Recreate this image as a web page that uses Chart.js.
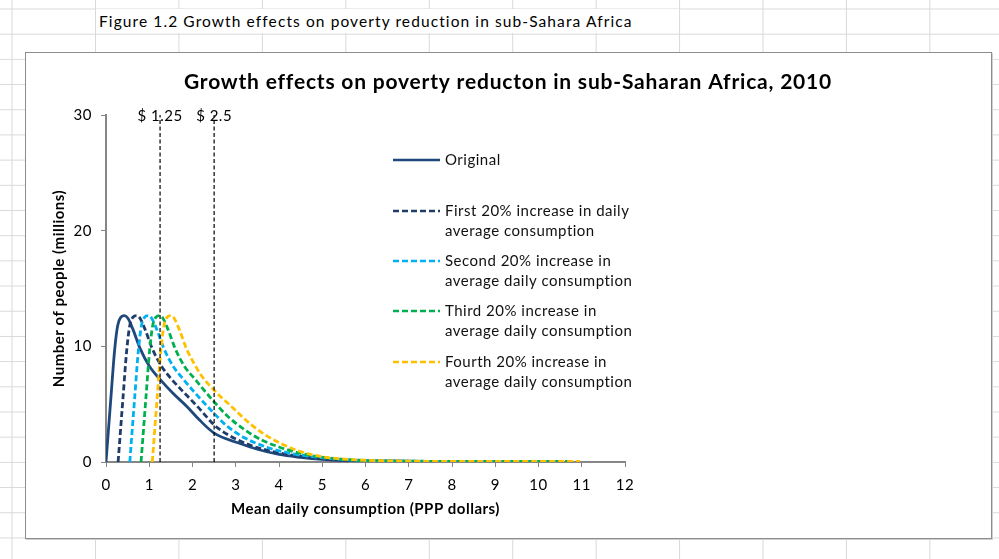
<!DOCTYPE html>
<html>
<head>
<meta charset="utf-8">
<script src="https://cdn.jsdelivr.net/npm/chart.js@4.4.1/dist/chart.umd.min.js"></script>
<style>
  body{
    margin:0; width:999px; height:559px; overflow:hidden; position:relative;
    background-color:#fff;
    background-image:linear-gradient(to right,#d9d9d9 1px,transparent 1px),linear-gradient(to bottom,#d9d9d9 1px,transparent 1px);
    background-size:83.45px 100%,100% 25.2px;
    background-position:95px 0,0 8.5px;
    font-family:Lato,"Open Sans",sans-serif;
  }
  #caption{position:absolute;left:96px;top:9px;width:583px;height:24px;background:#fff;
    font-size:15.5px;letter-spacing:1.1px;line-height:24px;padding-left:3px;box-sizing:border-box;color:#000;white-space:nowrap}
  #box{position:absolute;left:25px;top:52px;width:967px;height:487px;box-sizing:border-box;
    border:1px solid #8c8c8c;background:#fff;box-shadow:1px 1px 0 #cfcfcf}
  #chart{position:absolute;left:0;top:0}
</style>
</head>
<body>
<div id="caption">Figure 1.2 Growth effects on poverty reduction in sub-Sahara Africa</div>
<div id="box"></div>
<canvas id="chart" width="999" height="559"></canvas>
<script>
// Growth effects on poverty - distribution curves

const chartTitle = 'Growth effects on poverty reducton in sub-Saharan Africa, 2010';
const xTitle = 'Mean daily consumption (PPP dollars)';
const yTitle = 'Number of people (millions)';

const seriesNames = [
  ['Original'],
  ['First 20% increase in daily', 'average consumption'],
  ['Second 20% increase in', 'average daily consumption'],
  ['Third 20% increase in', 'average daily consumption'],
  ['Fourth 20% increase in', 'average daily consumption']
];
const seriesColors = ['#1f497d', '#1f3c6b', '#00b0f0', '#00b050', '#ffc000'];

const origX = [0, 0.11, 0.2, 0.27, 0.34, 0.43, 0.51, 0.63, 0.79, 1.0, 1.26, 1.56, 1.87, 2.17, 2.5, 3.1, 3.5, 4.0, 4.5, 5.0, 5.5, 6.0, 7.0, 8.0, 9.0, 9.9];
const origY = [0, 5.4, 9.7, 11.8, 12.5, 12.65, 12.4, 11.4, 9.8, 8.3, 7.1, 5.9, 4.8, 3.6, 2.5, 1.6, 1.1, 0.65, 0.4, 0.22, 0.12, 0.08, 0.06, 0.05, 0.05, 0.05];

const firstX = [0.28, 0.39, 0.48, 0.55, 0.62, 0.71, 0.79, 0.91, 1.07, 1.28, 1.53, 1.83, 2.14, 2.5, 2.8, 3.3, 3.8, 4.3, 4.8, 5.3, 5.8, 6.3, 7.3, 8.3, 9.3, 10.2];
const firstY = [0, 5.4, 9.7, 11.8, 12.5, 12.65, 12.4, 11.4, 9.8, 8.3, 7.1, 5.9, 4.7, 3.2, 2.4, 1.5, 0.95, 0.6, 0.35, 0.2, 0.12, 0.08, 0.06, 0.05, 0.05, 0.05];

const secondX = [0.55, 0.66, 0.75, 0.82, 0.89, 0.98, 1.06, 1.18, 1.34, 1.55, 1.8, 2.1, 2.5, 2.8, 3.2, 3.7, 4.2, 4.7, 5.2, 5.7, 6.2, 7.0, 8.0, 9.0, 10.0, 10.5];
const secondY = [0, 5.4, 9.7, 11.8, 12.5, 12.65, 12.4, 11.4, 9.8, 8.3, 7.1, 5.8, 4.2, 3.1, 2.1, 1.3, 0.8, 0.5, 0.3, 0.17, 0.1, 0.07, 0.05, 0.05, 0.05, 0.05];

const thirdX = [0.81, 0.92, 1.01, 1.08, 1.15, 1.24, 1.32, 1.44, 1.6, 1.81, 2.07, 2.5, 2.8, 3.2, 3.6, 4.0, 4.5, 5.0, 5.5, 6.0, 6.5, 7.5, 8.5, 9.5, 10.3, 10.7];
const thirdY = [0, 5.4, 9.7, 11.8, 12.5, 12.65, 12.4, 11.4, 9.8, 8.3, 7.1, 5.2, 4.0, 2.8, 1.9, 1.3, 0.75, 0.42, 0.23, 0.13, 0.09, 0.06, 0.05, 0.05, 0.05, 0.05];

const fourthX = [1.07, 1.18, 1.27, 1.34, 1.41, 1.5, 1.58, 1.7, 1.86, 2.07, 2.2, 2.5, 2.9, 3.3, 3.7, 4.1, 4.5, 5.0, 5.5, 6.0, 6.5, 7.0, 8.0, 9.0, 10.0, 10.96];
const fourthY = [0, 5.4, 9.7, 11.8, 12.5, 12.65, 12.4, 11.4, 9.8, 8.3, 7.5, 6.2, 4.8, 3.4, 2.3, 1.5, 0.9, 0.45, 0.25, 0.15, 0.1, 0.07, 0.05, 0.05, 0.05, 0.05];

const povertyLines = [1.25, 2.5];
const povertyLabels = ['$ 1.25', '$ 2.5'];
const povertyTop = 30;

const xTicks = [0, 12, 1];
const yTicks = [0, 30, 10];

const FONT = 'Lato, "Open Sans", sans-serif';

function pts(xs, ys){
  return xs.map((x, i) => ({x: x, y: ys[i]}));
}

const seriesData = [
  pts(origX, origY),
  pts(firstX, firstY),
  pts(secondX, secondY),
  pts(thirdX, thirdY),
  pts(fourthX, fourthY)
];

const datasets = seriesData.map((d, i) => ({
  label: seriesNames[i].join(' '),
  data: d,
  showLine: true,
  borderColor: seriesColors[i],
  backgroundColor: seriesColors[i],
  borderWidth: 2.8,
  borderDash: i === 0 ? [] : [6, 3],
  pointRadius: 0,
  cubicInterpolationMode: 'monotone',
  order: 5 - i,
  isSeries: true
}));

povertyLines.forEach(v => {
  datasets.push({
    data: [{x: v, y: 0}, {x: v, y: povertyTop}],
    showLine: true,
    borderColor: '#000',
    borderWidth: 1.2,
    borderDash: [4, 2.5],
    pointRadius: 0,
    order: 0
  });
});

// Excel spaces its glyphs out a bit more than the browser does
const spacingPlugin = {
  id: 'spacing',
  beforeDraw(chart){ chart.ctx.letterSpacing = '0.5px'; }
};

// title centred on the whole chart box, not only on the plot
const titlePlugin = {
  id: 'boxTitle',
  afterDraw(chart){
    const ctx = chart.ctx;
    ctx.save();
    ctx.letterSpacing = '0.8px';
    ctx.font = 'bold 21px ' + FONT;
    ctx.fillStyle = '#000';
    ctx.textAlign = 'center';
    ctx.textBaseline = 'middle';
    ctx.fillText(chartTitle, 508, 82);
    ctx.restore();
  }
};

// labels above the dashed poverty lines
const povertyLabelPlugin = {
  id: 'povertyLabels',
  beforeDatasetsDraw(chart){
    const {ctx, scales, chartArea} = chart;
    ctx.save();
    ctx.font = '15px ' + FONT;
    ctx.fillStyle = '#000';
    ctx.textAlign = 'center';
    ctx.textBaseline = 'middle';
    povertyLines.forEach((v, i) => {
      ctx.fillText(povertyLabels[i], scales.x.getPixelForValue(v), chartArea.top + 1);
    });
    ctx.restore();
  }
};

// legend drawn inside the plot like the Excel original
const legendPlugin = {
  id: 'insideLegend',
  afterDraw(chart){
    const {ctx, chartArea} = chart;
    const x0 = chartArea.left + 287;
    const rows = [160, 211, 261, 311, 362];
    ctx.save();
    ctx.font = '15px ' + FONT;
    ctx.textBaseline = 'middle';
    ctx.textAlign = 'left';
    chart.data.datasets.filter(d => d.isSeries).forEach((d, i) => {
      const y = rows[i];
      ctx.strokeStyle = d.borderColor;
      ctx.lineWidth = 2.4;
      ctx.setLineDash(d.borderDash);
      ctx.beginPath();
      ctx.moveTo(x0, y);
      ctx.lineTo(x0 + 47, y);
      ctx.stroke();
      ctx.setLineDash([]);
      ctx.fillStyle = '#111';
      seriesNames[i].forEach((t, k) => ctx.fillText(t, x0 + 52, y + k * 20.5));
    });
    ctx.restore();
  }
};

new Chart(document.getElementById('chart'), {
  type: 'scatter',
  data: {datasets},
  plugins: [spacingPlugin, titlePlugin, povertyLabelPlugin, legendPlugin],
  options: {
    responsive: false,
    animation: false,
    devicePixelRatio: 1,
    layout: {padding: {top: 115, left: 45, right: 374, bottom: 37}},
    plugins: {
      legend: {display: false},
      tooltip: {enabled: false},
      title: {display: false}
    },
    scales: {
      x: {
        type: 'linear',
        min: xTicks[0], max: xTicks[1],
        ticks: {stepSize: xTicks[2], color: '#000', padding: 9, font: {family: FONT, size: 15}},
        grid: {drawOnChartArea: false, drawTicks: true, tickLength: 5, color: '#868686', lineWidth: 1},
        border: {color: '#868686', width: 2},
        title: {display: true, text: xTitle, color: '#000', font: {family: FONT, size: 15, weight: 'bold'}, padding: {top: 4, bottom: 4}},
        afterFit: s => { s.height = 60; }
      },
      y: {
        min: yTicks[0], max: yTicks[1],
        ticks: {stepSize: yTicks[2], color: '#000', padding: 9, font: {family: FONT, size: 15}},
        grid: {drawOnChartArea: false, drawTicks: true, tickLength: 5, color: '#868686', lineWidth: 1},
        border: {color: '#868686', width: 2},
        title: {display: true, text: yTitle, color: '#000', font: {family: FONT, size: 15, weight: 'bold'}, padding: {top: 5, bottom: 0}},
        afterFit: s => { s.width = 61; }
      }
    }
  }
});
</script>
</body>
</html>
